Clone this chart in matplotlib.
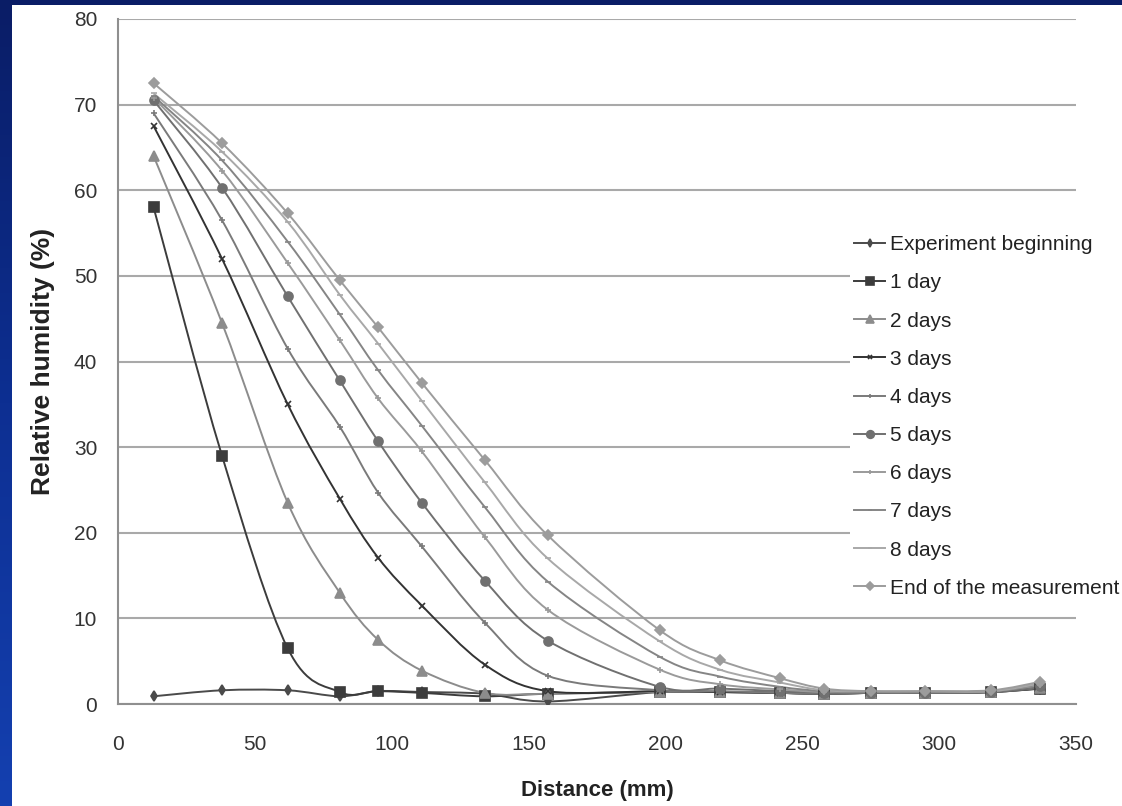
import numpy as np
import matplotlib
matplotlib.use("Agg")
import matplotlib.pyplot as plt
from matplotlib.path import Path
from matplotlib.patches import PathPatch, Rectangle
from matplotlib.lines import Line2D
from matplotlib.colors import LinearSegmentedColormap

# distance from surface (mm) and relative humidity (%) for each series
distance = [13, 38, 62, 81, 95, 111, 134, 157, 198, 220, 242, 258, 275, 295, 319, 337]

rh_start = [0.9, 1.6, 1.6, 0.9, 1.5, 1.4, 1.2, 0.3, 1.4, 1.4, 1.3, 1.2, 1.3, 1.3, 1.4, 1.8]
rh_day1 = [58, 29, 6.5, 1.4, 1.5, 1.3, 0.9, 1.2, 1.4, 1.4, 1.3, 1.2, 1.3, 1.3, 1.4, 1.8]
rh_day2 = [64, 44.5, 23.5, 13.0, 7.5, 3.9, 1.3, 1.2, 1.4, 1.4, 1.3, 1.2, 1.3, 1.3, 1.4, 1.9]
rh_day3 = [67.5, 52, 35, 24, 17.1, 11.5, 4.6, 1.5, 1.5, 1.4, 1.3, 1.2, 1.3, 1.3, 1.4, 2.0]
rh_day4 = [69, 56.5, 41.5, 32.4, 24.7, 18.4, 9.5, 3.3, 1.6, 1.5, 1.3, 1.2, 1.3, 1.3, 1.4, 2.0]
rh_day5 = [70.5, 60.3, 47.6, 37.8, 30.7, 23.5, 14.4, 7.4, 2.0, 1.8, 1.5, 1.3, 1.3, 1.3, 1.4, 2.1]
rh_day6 = [70.8, 62.3, 51.5, 42.5, 35.7, 29.5, 19.5, 11.0, 4.0, 2.3, 1.7, 1.4, 1.4, 1.4, 1.5, 2.2]
rh_day7 = [71, 63.5, 54, 45.5, 39, 32.5, 23, 14.3, 5.5, 3.2, 2.0, 1.5, 1.4, 1.4, 1.5, 2.3]
rh_day8 = [71.3, 64.5, 56.3, 47.8, 42.1, 35.4, 25.9, 17.0, 7.3, 4.0, 2.5, 1.6, 1.5, 1.5, 1.5, 2.4]
rh_end = [72.5, 65.5, 57.3, 49.5, 44, 37.5, 28.5, 19.7, 8.6, 5.1, 3.0, 1.8, 1.5, 1.5, 1.6, 2.6]

labels = ["Experiment beginning", "1 day", "2 days", "3 days", "4 days", "5 days",
          "6 days", "7 days", "8 days", "End of the measurement"]
series = [rh_start, rh_day1, rh_day2, rh_day3, rh_day4, rh_day5,
          rh_day6, rh_day7, rh_day8, rh_end]

colors = ["#4a4a4a", "#3c3c3c", "#8c8c8c", "#333333", "#7a7a7a", "#707070",
          "#9a9a9a", "#858585", "#a8a8a8", "#9c9c9c"]
markers = ["d", "s", "^", "x", "+", "o", "+", "_", "_", "D"]
msizes = [5, 7, 6.5, 4.5, 4.5, 6.5, 4.5, 4.5, 4.5, 5]

FONT = ["Liberation Sans Narrow", "Liberation Sans", "DejaVu Sans"]


def smooth_path(x, y):
    # excel-style smoothed line: cubic bezier through the points
    pts = np.column_stack([x, y]).astype(float)
    n = len(pts)
    verts = [pts[0]]
    codes = [Path.MOVETO]
    for i in range(n - 1):
        p0 = pts[i - 1] if i > 0 else pts[i]
        p1 = pts[i]
        p2 = pts[i + 1]
        p3 = pts[i + 2] if i + 2 < n else pts[i + 1]
        verts += [p1 + (p2 - p0) / 6, p2 - (p3 - p1) / 6, p2]
        codes += [Path.CURVE4] * 3
    return Path(verts, codes)


fig = plt.figure(figsize=(11.22, 8.06), dpi=100)

# slide background
bg = fig.add_axes([0, 0, 1, 1], zorder=-5)
grad = np.linspace(0, 1, 256).reshape(-1, 1)
cmap = LinearSegmentedColormap.from_list("slide", ["#0a1d66", "#0d2f92", "#1440b0"])
bg.imshow(grad, cmap=cmap, aspect="auto", extent=[0, 1, 0, 1], origin="upper")
bg.add_patch(Rectangle((12 / 1122, 0), 1, 1 - 5 / 806, facecolor="white",
                       edgecolor="none", transform=bg.transAxes))
bg.set_xlim(0, 1)
bg.set_ylim(0, 1)
bg.axis("off")

ax = fig.add_axes([118 / 1122, 1 - 704 / 806, (1076 - 118) / 1122, (704 - 19) / 806])
ax.set_facecolor("none")

handles = []
for vals, lab, c, m, ms in zip(series, labels, colors, markers, msizes):
    ax.add_patch(PathPatch(smooth_path(distance, vals), facecolor="none",
                           edgecolor=c, lw=1.4, zorder=3))
    ax.plot(distance, vals, ls="none", marker=m, ms=ms, color=c,
            mec=c, mew=1.2, zorder=4)
    handles.append(Line2D([], [], color=c, lw=1.4, marker=m, ms=ms - 1, mec=c, mew=1.2))

ax.set_xlim(0, 350)
ax.set_ylim(0, 80)
ax.set_xticks(range(0, 351, 50))
ax.set_yticks(range(0, 81, 10))
ax.yaxis.grid(True, color="#a9a9a9", lw=1.5)
ax.set_axisbelow(True)
for s in ["top", "right"]:
    ax.spines[s].set_visible(False)
for s in ["left", "bottom"]:
    ax.spines[s].set_color("#8f8f8f")
    ax.spines[s].set_linewidth(1.5)
ax.tick_params(axis="both", length=0, labelsize=15, colors="#333333")
ax.tick_params(axis="y", pad=15)
ax.tick_params(axis="x", pad=22)
for t in ax.get_xticklabels() + ax.get_yticklabels():
    t.set_family(FONT)

ax.set_ylabel("Relative humidity (%)", fontsize=19, fontweight="bold",
              color="#222222", family=FONT)
ax.yaxis.set_label_coords(-0.066, 0.5)
ax.set_xlabel("Distance (mm)", fontsize=16, fontweight="bold",
              color="#222222", family=FONT)
ax.xaxis.set_label_coords(0.5, -0.111)

leg = fig.legend(handles, labels, loc="upper left",
                 bbox_to_anchor=(850 / 1122, 1 - 231 / 806),
                 prop={"family": FONT, "size": 15}, frameon=True,
                 borderaxespad=0, borderpad=0.2, handlelength=1.5,
                 handletextpad=0.2, labelspacing=0.92)
leg.get_frame().set_facecolor("white")
leg.get_frame().set_edgecolor("none")
leg.get_frame().set_alpha(1)
for t in leg.get_texts():
    t.set_color("#222222")

fig.savefig("out.png", dpi=100)
